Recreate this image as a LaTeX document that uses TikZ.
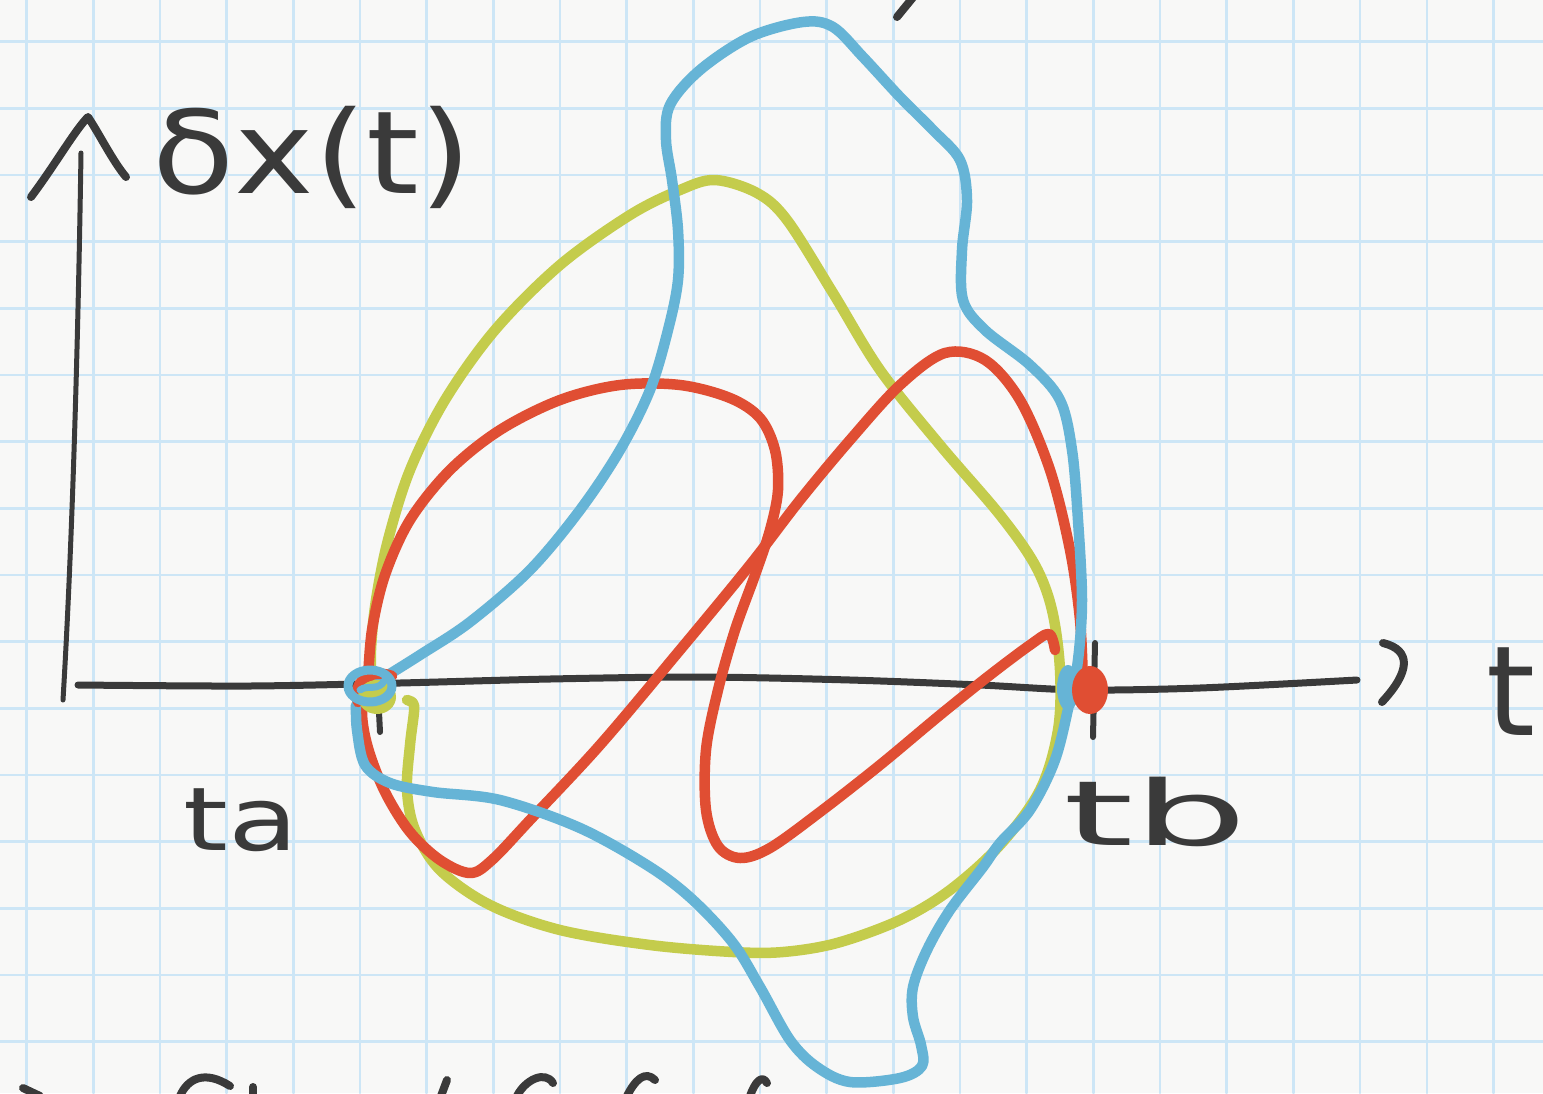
\documentclass[tikz,border=0pt]{standalone}
\usepackage{fontspec}
\newfontfamily\hand{DejaVu Sans}
\definecolor{bg}{HTML}{F8F8F7}
\definecolor{gridc}{HTML}{CDE6F6}
\definecolor{ink}{HTML}{3A3A3A}
\definecolor{redc}{HTML}{E04E33}
\definecolor{greenc}{HTML}{C4CC4C}
\definecolor{bluec}{HTML}{66B4D6}
\begin{document}
\begin{tikzpicture}[x=1pt,y=-1pt, line cap=round, line join=round,
  curve/.style={line width=10.5pt},
  axisline/.style={ink, line width=7pt},
  gridline/.style={gridc, line width=2.5pt},
  lab/.style={ink, inner sep=0pt},
  frag/.style={ink, line width=8pt}]
\useasboundingbox (0,0) rectangle (1543,1093);
\clip (0,0) rectangle (1543,1093);
\fill[bg] (0,0) rectangle (1543,1093);
% grid
\foreach \k in {0,...,22} \draw[gridline] ({26.67+66.67*\k},0) -- ({26.67+66.67*\k},1093);
\foreach \k in {0,...,15} \draw[gridline] (0,{41.67+66.67*\k}) -- (1543,{41.67+66.67*\k});
% axes
\draw[ink, line width=5pt] (81,153) .. controls (78,350) and (72,550) .. (63,700);
\draw[ink, line width=8pt] (31,197) .. controls (55,165) and (75,130) .. (88,117) .. controls (100,135) and (112,160) .. (126,177);
\draw[axisline] plot[smooth] coordinates {(78,685) (250,686) (400,683) (550,679) (700,677) (850,680) (980,685) (1080,690) (1200,688) (1357,680)};
\draw[ink, line width=8pt] (1383,643) .. controls (1412,650) and (1410,672) .. (1382,702);
\draw[ink, line width=6pt] (379,712) -- (380,732);
\draw[ink, line width=6pt] (1095,643) -- (1093,737);
% labels
\node[lab, font=\hand\fontsize{115}{115}\selectfont, xscale=1.17, anchor=base west] (dx) at (152,193) {δx(t)};
\node[lab, font=\hand\fontsize{88}{88}\selectfont, xscale=1.3, anchor=base west] (ta) at (183,850) {ta};
\node[lab, font=\hand\fontsize{90}{90}\selectfont, xscale=2.0, anchor=base west] (tb) at (1063,845) {tb};
\node[lab, font=\hand\fontsize{125}{125}\selectfont, anchor=base west] (tt) at (1486,735) {t};
% cut-off fragments at the edges
\draw[frag] (897,17) -- (915,-5);
\draw[frag] (23,1088) -- (40,1096);
\draw[frag] (180,1096) .. controls (188,1078) and (205,1070) .. (230,1086);
\draw[frag] (253,1087) -- (253,1096);
\draw[frag] (441,1096) -- (447,1080);
\draw[frag] (517,1096) .. controls (525,1080) and (545,1070) .. (553,1083);
\draw[frag] (627,1096) .. controls (635,1080) and (645,1070) .. (655,1080);
\draw[frag] (750,1096) .. controls (755,1082) and (762,1074) .. (767,1083);
% green curve
\draw[greenc, curve] plot[smooth, tension=0.55] coordinates {
 (372,690) (371,650) (376,600) (388,540) (410,470) (445,400) (495,330) (560,265)
 (630,215) (680,190) (715,180) (757,193) (787,220) (833,293) (880,370) (940,445)
 (1000,515) (1035,565) (1052,610) (1060,670) (1058,730) (1040,790) (1000,845)
 (950,890) (900,920) (837,943) (783,952) (733,952) (650,945) (560,930) (490,905)
 (440,870) (415,830) (407,790) (410,745) (414,712) (413,703) (407,700)};
% red curves
\draw[redc, curve] plot[smooth, tension=0.55] coordinates {
 (368,680) (362,712) (368,748) (385,792) (410,832) (440,860) (470,873) (492,860)
 (530,820) (600,745) (680,650) (750,565) (800,500) (850,440) (900,385) (945,353)
 (985,360) (1020,400) (1050,470) (1070,550) (1080,620) (1083,685)};
\draw[redc, curve] plot[smooth, tension=0.55] coordinates {
 (368,680) (372,630) (385,575) (410,520) (450,470) (500,430) (560,400) (620,385)
 (680,385) (730,398) (760,418) (775,450) (778,490) (770,530) (755,575) (735,630)
 (718,690) (706,750) (706,810) (718,846) (740,858) (770,848) (820,812) (880,765)
 (940,715) (990,675) (1030,645) (1049,634) (1055,650)};
% blue curve
\draw[bluec, curve] plot[smooth, tension=0.55] coordinates {
 (380,680) (420,655) (470,622) (530,570) (580,510) (620,450) (650,390) (668,330)
 (678,280) (678,230) (672,180) (666,140) (670,105) (700,70) (750,37) (803,22)
 (833,27) (863,57) (900,97) (933,130) (960,160) (967,200) (962,250) (963,300)
 (985,330) (1030,365) (1060,400) (1072,450) (1078,520) (1082,600) (1078,660)
 (1070,700) (1055,760) (1030,810) (1000,843) (983,867) (950,910) (927,950)
 (913,987) (913,1017) (921,1045) (922,1066) (900,1078) (850,1082) (817,1067)
 (790,1040) (760,987) (733,943) (693,900) (650,867) (580,828) (500,800) (433,792)
 (390,783) (365,765) (357,730) (356,705)};
% knot at ta
\draw[redc, curve] (358,702) .. controls (352,682) and (370,668) .. (392,676);
\fill[greenc] (377,697) ellipse (19 and 17);
\draw[bluec, line width=9pt] (370,686) ellipse (22 and 16);
\draw[bluec, line width=7pt] (360,690) .. controls (368,684) and (378,692) .. (385,680);
% blobs at tb
\fill[bluec] (1068,688) ellipse (11 and 23);
\fill[redc] (1090,690) ellipse (18 and 24);
\end{tikzpicture}
\end{document}
